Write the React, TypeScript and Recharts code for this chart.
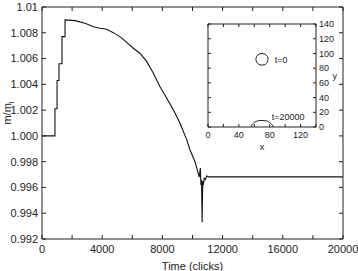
import React from 'react';
import { LineChart, Line, XAxis, YAxis, ReferenceDot } from 'recharts';

// main curve: mass ratio vs time (clicks)
const time = [
    0, 860, 860, 1000, 1000, 1130, 1130, 1330, 1330, 1530, 1530, 2190, 2860, 3410, 3850, 4300, 4740,
    5180, 5630, 6070, 6510, 6960, 7400, 7840, 8290, 8730, 9170, 9620, 9840, 10170, 10450, 10520, 10560,
    10600, 10640, 10680, 10720, 10780, 10850, 10950, 11050, 20000,
];
const ratio = [
    1.0, 1.0, 1.0021, 1.0021, 1.0043, 1.0043, 1.0056, 1.0056, 1.0077, 1.0077, 1.009, 1.00894, 1.00874,
    1.00847, 1.00835, 1.00827, 1.00801, 1.0077, 1.00726, 1.0068, 1.00641, 1.00576, 1.00486, 1.00382,
    1.00292, 1.00202, 1.00098, 0.99969, 0.99891, 0.99798, 0.9968, 0.9975, 0.9962, 0.9966, 0.9933,
    0.9965, 0.9962, 0.9967, 0.9966, 0.9969, 0.99682, 0.99682,
];

const xTicks = [0, 2000, 4000, 6000, 8000, 10000, 12000, 14000, 16000, 18000, 20000];
const xLabels = [0, 4000, 8000, 12000, 16000, 20000];
const yTicks = [0.992, 0.994, 0.996, 0.998, 1.0, 1.002, 1.004, 1.006, 1.008, 1.01];
const yLabels = ['0.992', '0.994', '0.996', '0.998', '1.000', '1.002', '1.004', '1.006', '1.008', '1.01'];

// inset: droplet shape at t=0 and t=20000
const circleX = [78, 77, 74, 70, 66, 63, 62, 63, 66, 70, 74, 77];
const circleY = [92, 96, 99, 100, 99, 96, 92, 88, 85, 84, 85, 88];
const dropX = [56, 57, 60, 65, 70, 75, 80, 83, 85];
const dropY = [0, 3, 6, 8.5, 9, 8.5, 6, 3, 0];
const insetTicks = [0, 20, 40, 60, 80, 100, 120, 140];
const insetXLabels = [0, 40, 80, 120];

const mainData = time.map((t, i) => ({ t, m: ratio[i] }));
const circleData = circleX.map((x, i) => ({ x, y: circleY[i] }));
const dropData = dropX.map((x, i) => ({ x, y: dropY[i] }));

const FONT = '"Liberation Sans", Arial, sans-serif';
const INK = '#222';

const Tick = (props: any) => {
    const { x, y, payload, side, gap, len, show, names, fs } = props;
    const v = payload.value;
    const idx = show ? show.indexOf(v) : -1;
    const txt = idx >= 0 ? (names ? names[idx] : String(v)) : null;
    if (side === 'bottom') {
        const a = y - gap;
        return (
            <g>
                <line x1={x} y1={a} x2={x} y2={a - len} stroke={INK} />
                {txt && <text x={x} y={y} dy="0.71em" textAnchor="middle" fontSize={fs} fill={INK} fontFamily={FONT}>{txt}</text>}
            </g>
        );
    }
    if (side === 'top') {
        const a = y + gap;
        return <line x1={x} y1={a} x2={x} y2={a + len} stroke={INK} />;
    }
    if (side === 'left') {
        const a = x + gap;
        return (
            <g>
                <line x1={a} y1={y} x2={a + len} y2={y} stroke={INK} />
                {txt && <text x={x} y={y} dy="0.35em" textAnchor="end" fontSize={fs} fill={INK} fontFamily={FONT}>{txt}</text>}
            </g>
        );
    }
    const a = x - gap;
    return (
        <g>
            <line x1={a} y1={y} x2={a - len} y2={y} stroke={INK} />
            {txt && <text x={x} y={y} dy="0.35em" textAnchor="start" fontSize={fs} fill={INK} fontFamily={FONT}>{txt}</text>}
        </g>
    );
};

const MassLabel = (props: any) => {
    const vb = props.viewBox || { x: 0, y: 0, height: 0 };
    const cx = vb.x + 7;
    const cy = vb.y + vb.height / 2 - 10;
    return (
        <text x={cx} y={cy} transform={`rotate(-90, ${cx}, ${cy})`} textAnchor="middle" dominantBaseline="central"
            fontSize={11} fill={INK} fontFamily={FONT}>
            m/m<tspan baselineShift="sub" fontSize={8}>i</tspan>
        </text>
    );
};

const axisLine = { stroke: INK, strokeWidth: 1 };

const Inset: React.FC = () => (
    <div style={{ position: 'absolute', left: 203, top: 19 }}>
        <LineChart width={150} height={135} margin={{ top: 4, right: 7, left: 4, bottom: 0 }}>
            <XAxis dataKey="x" type="number" domain={[0, 140]} ticks={insetTicks} interval={0} height={27}
                tickSize={0} tickMargin={5} tickLine={false} axisLine={axisLine}
                tick={<Tick side="bottom" gap={5} len={3} show={insetXLabels} fs={9} />}
                label={{ value: 'x', position: 'insideBottom', offset: 4, fontSize: 9, fill: INK, fontFamily: FONT }} />
            <XAxis xAxisId="top" orientation="top" dataKey="x" type="number" domain={[0, 140]} ticks={insetTicks}
                interval={0} height={1} tickSize={0} tickMargin={0} tickLine={false} axisLine={axisLine}
                tick={<Tick side="top" gap={0} len={3} />} />
            <YAxis yAxisId="l" type="number" domain={[0, 140]} ticks={insetTicks} interval={0} width={1}
                tickSize={0} tickMargin={0} tickLine={false} axisLine={axisLine}
                tick={<Tick side="left" gap={0} len={3} />} />
            <YAxis yAxisId="r" orientation="right" type="number" domain={[0, 140]} ticks={insetTicks} interval={0}
                width={30} tickSize={0} tickMargin={3} tickLine={false} axisLine={axisLine}
                tick={<Tick side="right" gap={3} len={3} show={insetTicks} fs={9} />}
                label={{ value: 'y', position: 'insideRight', offset: 9, fontSize: 9, fill: INK, fontFamily: FONT }} />
            <Line yAxisId="r" data={circleData} dataKey="y" type="linearClosed" stroke={INK} strokeWidth={1}
                dot={false} isAnimationActive={false} />
            <Line yAxisId="r" data={dropData} dataKey="y" type="monotone" stroke={INK} strokeWidth={1}
                dot={false} isAnimationActive={false} />
            <Line xAxisId="top" yAxisId="l" data={dropData} dataKey="y" stroke="none" dot={false}
                isAnimationActive={false} />
            <ReferenceDot yAxisId="r" x={80} y={91} r={0} stroke="none"
                label={{ value: 't=0', position: 'right', fontSize: 9, fill: INK, fontFamily: FONT }} />
            <ReferenceDot yAxisId="r" x={76} y={14} r={0} stroke="none"
                label={{ value: 't=20000', position: 'right', fontSize: 9, fill: INK, fontFamily: FONT }} />
        </LineChart>
    </div>
);

const App: React.FC = () => {
    return (
        <div style={{ position: 'absolute', left: 0, top: 0, width: 358, height: 271, background: '#fff' }}>
            <LineChart width={358} height={271} data={mainData} margin={{ top: 6, right: 14, left: 0, bottom: 0 }}>
                <XAxis dataKey="t" type="number" domain={[0, 20000]} ticks={xTicks} interval={0} height={32}
                    tickSize={0} tickMargin={6} tickLine={false} axisLine={axisLine}
                    tick={<Tick side="bottom" gap={6} len={4} show={xLabels} fs={11} />}
                    label={{ value: 'Time (clicks)', position: 'insideBottom', offset: 1, fontSize: 11, fill: INK, fontFamily: FONT }} />
                <XAxis xAxisId="top" orientation="top" dataKey="t" type="number" domain={[0, 20000]} ticks={xTicks}
                    interval={0} height={1} tickSize={0} tickMargin={0} tickLine={false} axisLine={axisLine}
                    tick={<Tick side="top" gap={0} len={4} />} />
                <YAxis type="number" domain={[0.992, 1.01]} ticks={yTicks} interval={0} width={42}
                    tickSize={0} tickMargin={4} tickLine={false} axisLine={axisLine} allowDataOverflow
                    tick={<Tick side="left" gap={4} len={4} show={yTicks} names={yLabels} fs={11} />}
                    label={<MassLabel />} />
                <YAxis yAxisId="right" orientation="right" type="number" domain={[0.992, 1.01]} ticks={yTicks}
                    interval={0} width={1} tickSize={0} tickMargin={0} tickLine={false} axisLine={axisLine}
                    tick={<Tick side="right" gap={0} len={4} />} />
                <Line dataKey="m" type="linear" stroke="#111" strokeWidth={1.1} dot={false} isAnimationActive={false} />
                <Line xAxisId="top" yAxisId="right" dataKey="m" stroke="none" dot={false} isAnimationActive={false} />
            </LineChart>
            <Inset />
        </div>
    );
};

export default App;
